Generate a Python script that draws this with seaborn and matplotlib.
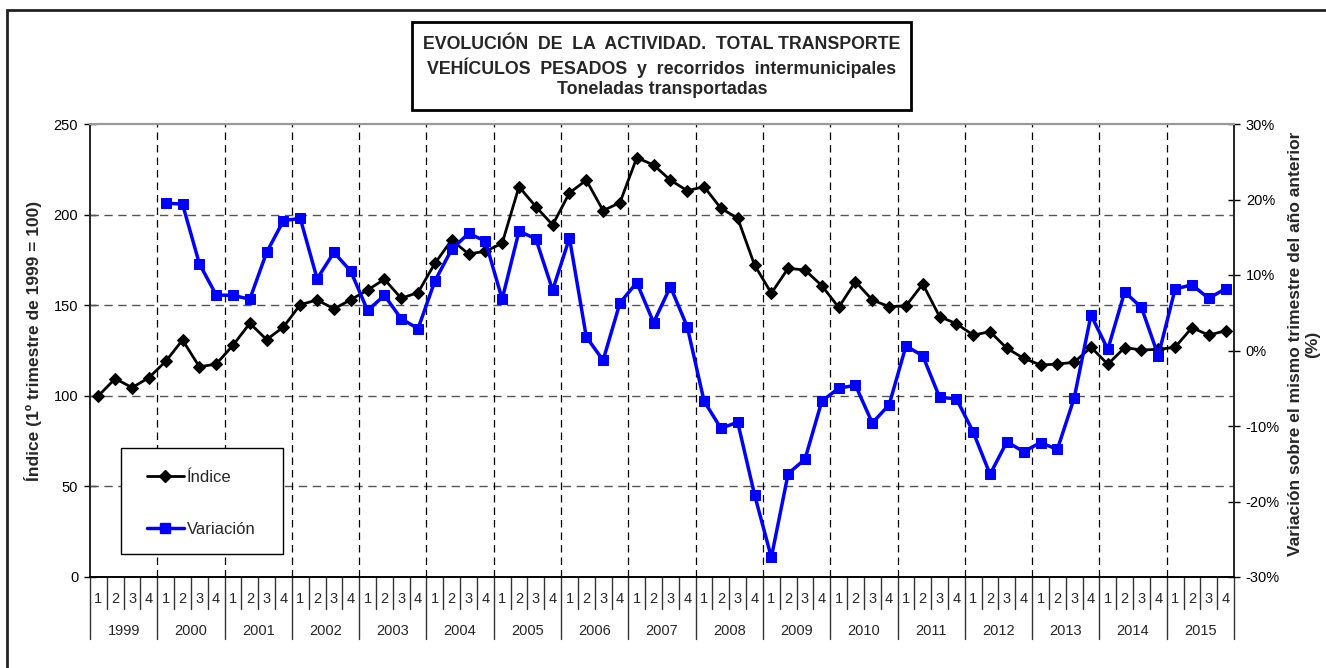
import numpy as np
import pandas as pd
import matplotlib
matplotlib.use("Agg")
import matplotlib.pyplot as plt
import matplotlib.patches as mpatches
from matplotlib.lines import Line2D
import matplotlib.transforms as mtransforms
import seaborn as sns

years = [str(y) for y in range(1999, 2016)]
quarters = ["1", "2", "3", "4"]

indice = [
    100, 109.5, 104.5, 110,
    119, 130.8, 116, 117.5,
    127.9, 140, 131, 138,
    150.3, 152.9, 148, 153,
    158.4, 164.3, 153.8, 157,
    173.1, 186, 178.3, 179.7,
    184.2, 215.4, 204.4, 194.3,
    212, 219, 202.2, 206.6,
    231.4, 227.4, 219, 213.2,
    215.4, 203.5, 198, 172.2,
    156.6, 170.4, 169.4, 160.8,
    148.8, 163, 152.9, 149.2,
    149.6, 161.7, 143.7, 139.8,
    133.5, 135.4, 126.2, 120.7,
    117, 117.5, 118.5, 126.8,
    117.4, 126.6, 125.3, 125.6,
    126.8, 137.6, 133.5, 135.9,
]

variacion = [
    np.nan, np.nan, np.nan, np.nan,
    19.5, 19.4, 11.5, 7.35,
    7.3, 6.8, 13.0, 17.2,
    17.5, 9.5, 13.0, 10.5,
    5.3, 7.3, 4.2, 2.9,
    9.2, 13.4, 15.5, 14.5,
    6.8, 15.8, 14.8, 8.0,
    14.9, 1.8, -1.3, 6.3,
    9.0, 3.7, 8.45, 3.15,
    -6.7, -10.3, -9.5, -19.1,
    -27.4, -16.3, -14.4, -6.7,
    -5.0, -4.6, -9.6, -7.2,
    0.6, -0.7, -6.2, -6.4,
    -10.8, -16.4, -12.1, -13.4,
    -12.2, -13.1, -6.3, 4.7,
    0.15, 7.75, 5.7, -0.7,
    8.15, 8.7, 6.9, 8.2,
]

title = ("EVOLUCIÓN  DE  LA  ACTIVIDAD.  TOTAL TRANSPORTE\n"
         "VEHÍCULOS  PESADOS  y  recorridos  intermunicipales\n"
         "Toneladas transportadas")
left_label = "Índice (1º trimestre de 1999 = 100)"
right_label = "Variación sobre el mismo trimestre del año anterior\n(%)"

n = len(indice)
df = pd.DataFrame({"t": np.arange(n), "indice": indice, "variacion": variacion})

sns.set_style("white")
plt.rcParams["font.family"] = ["Liberation Sans", "DejaVu Sans"]

W, H = 1326, 668
fig = plt.figure(figsize=(W / 100, H / 100), dpi=100)
L, R, T, B = 90, 1234, 124, 577
AW, AH = R - L, B - T
ax = fig.add_axes([L / W, 1 - B / H, AW / W, AH / H])
ax2 = ax.twinx()

# Lines
sns.lineplot(data=df, x="t", y="indice", ax=ax, color="black", lw=2,
             marker="D", markersize=6, markeredgecolor="black", sort=False,
             estimator=None, zorder=3)
sns.lineplot(data=df.dropna(), x="t", y="variacion", ax=ax2, color="#0000FF",
             lw=2.5, marker="s", markersize=7.5, markeredgecolor="#0000FF",
             sort=False, estimator=None, zorder=3)

ax.set_xlim(-0.5, n - 0.5)
ax.set_ylim(0, 250)
ax2.set_ylim(-30, 30)

TF = 10.5
# Left axis
ax.set_yticks([0, 50, 100, 150, 200, 250])
ax.set_yticklabels(["0", "50", "100", "150", "200", "250"], fontsize=TF)
ax.tick_params(axis="y", direction="inout", length=9, width=1, colors="black", pad=4, left=True)
ax.set_ylabel(left_label, fontsize=12.5, fontweight="bold")
ax.yaxis.set_label_coords((42 - L) / AW, (B - 341) / AH)

# Right axis
ax2.set_yticks([-30, -20, -10, 0, 10, 20, 30])
ax2.set_yticklabels([f"{v}%" for v in [-30, -20, -10, 0, 10, 20, 30]], fontsize=TF)
ax2.tick_params(axis="y", direction="inout", length=9, width=1, colors="black", pad=4, right=True)
ax2.set_ylabel(right_label, fontsize=12.5, fontweight="bold", linespacing=1.15)
ax2.yaxis.set_label_coords((1288 - L) / AW, (B - 344) / AH)

# Grid
for v in [50, 100, 150, 200]:
    ax.axhline(v, color="#555555", lw=1, ls=(0, (6, 4)), zorder=1)
for k in range(4, n, 4):
    ax.axvline(k - 0.5, color="black", lw=0.9, ls=(0, (6, 4)), zorder=1)

for a in (ax, ax2):
    a.spines["top"].set_color("#999999")
    a.spines["top"].set_linewidth(1.5)
    a.spines["left"].set_color("#222222")
    a.spines["right"].set_color("#222222")
    a.spines["bottom"].set_color("black")
    a.spines["left"].set_linewidth(1.2)
    a.spines["right"].set_linewidth(1.2)
    a.spines["bottom"].set_linewidth(1.2)

# X axis: quarter labels and separators
ax.set_xticks(np.arange(n))
ax.set_xticklabels([quarters[i % 4] for i in range(n)], fontsize=TF)
ax.tick_params(axis="x", length=0, pad=11)
ax.set_xlabel("")
ax2.set_xlabel("")
trans = mtransforms.blended_transform_factory(ax.transData, ax.transAxes)
for k in range(0, n + 1):
    depth = 62 if k % 4 == 0 else 32
    ax.add_line(Line2D([k - 0.5, k - 0.5], [0, -depth / AH], transform=trans,
                       color="#333333", lw=1, clip_on=False))
for j, y in enumerate(years):
    ax.text(4 * j + 1.5, -(631 - B) / AH, y, transform=trans, ha="center",
            va="center", fontsize=TF)

# Legend (frame drawn as a rectangle, entries via legend)
ax2.add_patch(mpatches.Rectangle(((121 - L) / AW, (B - 554) / AH), 162 / AW, 106 / AH,
                                 transform=ax2.transAxes, facecolor="white",
                                 edgecolor="black", lw=1, zorder=9, clip_on=False))
handles = [
    Line2D([], [], color="black", lw=2, marker="D", markersize=6),
    Line2D([], [], color="#0000FF", lw=2.5, marker="s", markersize=7),
]
leg = ax2.legend(handles, ["Índice", "Variación"], loc="upper left",
                 bbox_to_anchor=((147 - L) / AW, (B - 470) / AH),
                 frameon=False, fontsize=12, handlelength=2.2, handletextpad=0.2,
                 labelspacing=2.2, borderpad=0, borderaxespad=0)
leg.set_zorder(10)

# Title box
fig.patches.append(mpatches.Rectangle((412 / W, 1 - 110 / H), (911 - 412) / W, (110 - 22) / H,
                                      transform=fig.transFigure, fill=True,
                                      facecolor="white", edgecolor="black", lw=2, zorder=5))
fig.text(662 / W, 1 - 67 / H, title, ha="center", va="center", fontsize=12.8,
         fontweight="bold", linespacing=1.25, zorder=6)

# Outer border
fig.patches.append(mpatches.Rectangle((7 / W, -0.1), 1.2, 1 - 10 / H + 0.1,
                                      transform=fig.transFigure, fill=False,
                                      edgecolor="#222222", lw=2, zorder=0))

fig.savefig("out.png", dpi=100)
